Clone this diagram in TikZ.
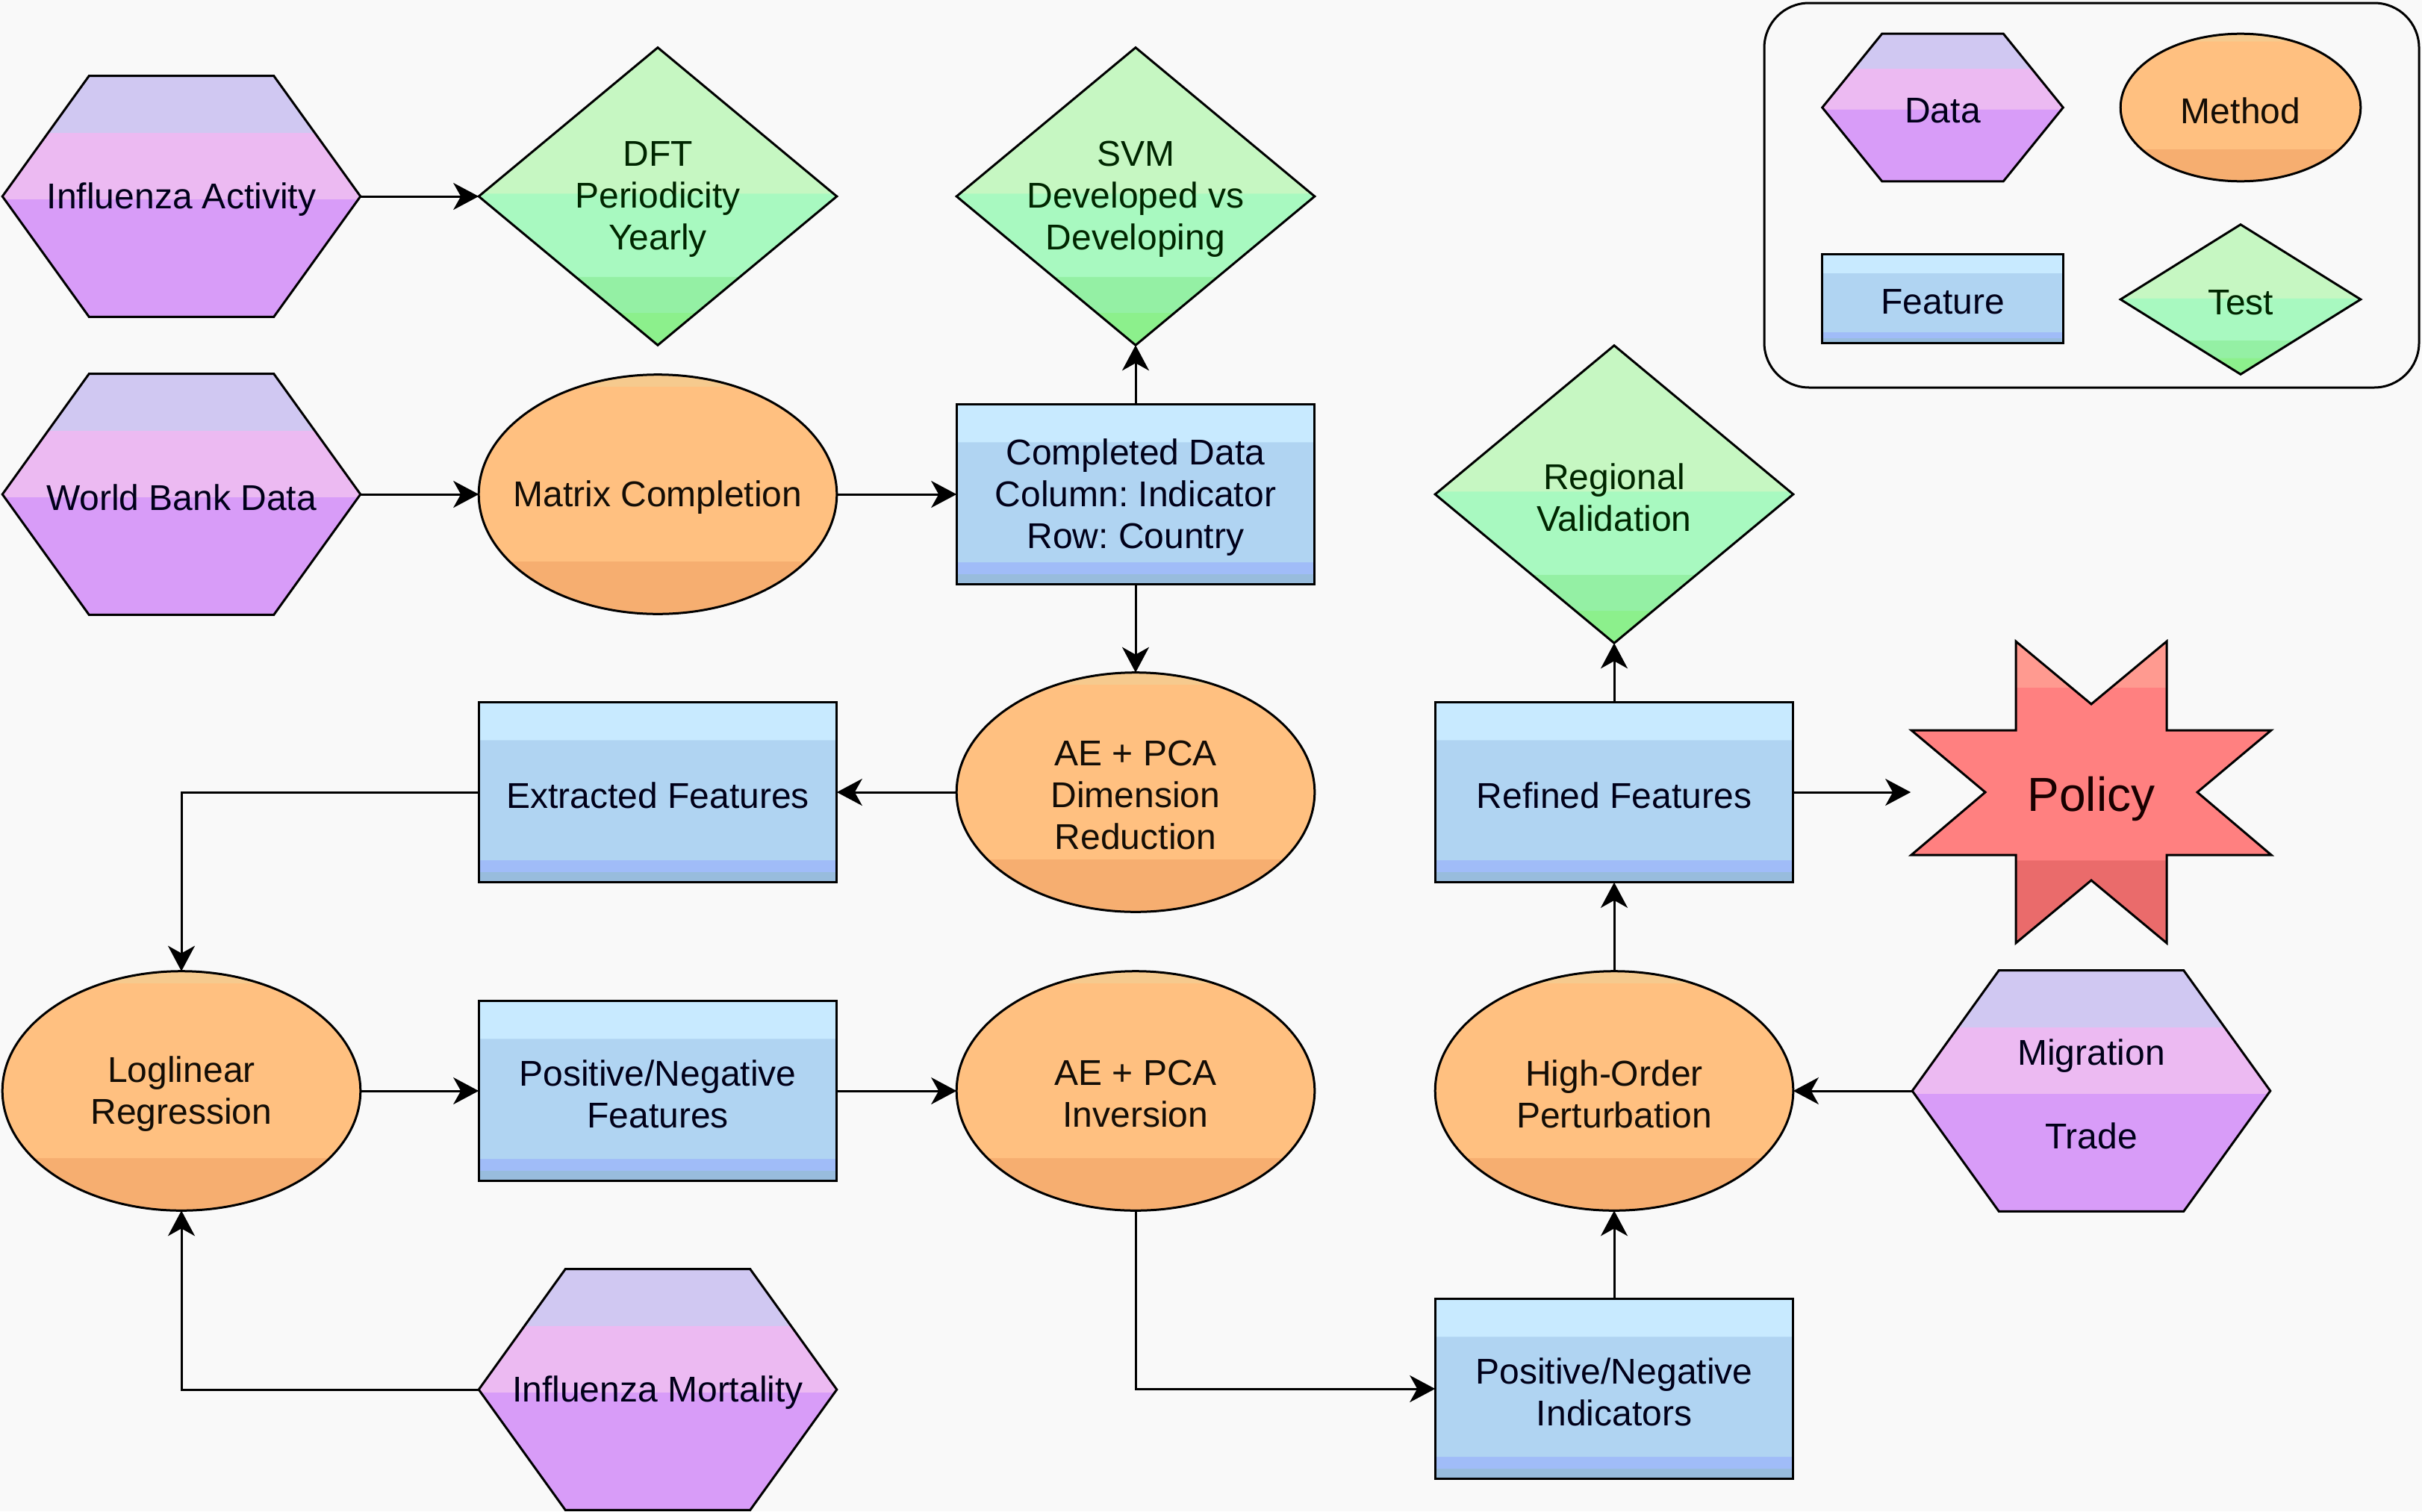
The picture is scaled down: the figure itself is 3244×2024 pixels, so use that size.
\documentclass[tikz,border=0pt]{standalone}
\usepackage{fontspec}
\setmainfont{Liberation Sans}
\frenchspacing
\usetikzlibrary{arrows.meta,calc}
\pgfdeclarelayer{bg}
\pgfsetlayers{bg,main}
\definecolor{bgcol}{HTML}{F9F9F9}
\definecolor{hxA}{HTML}{D0C8F2}
\definecolor{hxB}{HTML}{ECBAF2}
\definecolor{hxC}{HTML}{D89CF8}
\definecolor{ftA}{HTML}{C8EAFF}
\definecolor{ftB}{HTML}{B0D4F2}
\definecolor{ftC}{HTML}{A0BCF8}
\definecolor{ftD}{HTML}{98BCDD}
\definecolor{dmA}{HTML}{C6F7C2}
\definecolor{dmB}{HTML}{A8F9C0}
\definecolor{dmC}{HTML}{94F0A4}
\definecolor{dmD}{HTML}{8CF08C}
\definecolor{elA}{HTML}{F6CA8E}
\definecolor{elB}{HTML}{FFC080}
\definecolor{elC}{HTML}{F6AE70}
\definecolor{stA}{HTML}{FF9A90}
\definecolor{stB}{HTML}{FF8080}
\definecolor{stC}{HTML}{EA6B6B}
\pgfdeclareverticalshading{hexsh}{100bp}{color(0bp)=(hxC); color(49.5bp)=(hxC); color(49.51bp)=(hxB); color(63.25bp)=(hxB); color(63.26bp)=(hxA); color(100bp)=(hxA)}
\pgfdeclareverticalshading{ftsh}{100bp}{color(0bp)=(ftD); color(28bp)=(ftD); color(28.01bp)=(ftC); color(31.25bp)=(ftC); color(31.26bp)=(ftB); color(64.5bp)=(ftB); color(64.51bp)=(ftA); color(100bp)=(ftA)}
\pgfdeclareverticalshading{dmsh}{100bp}{color(0bp)=(dmD); color(30.5bp)=(dmD); color(30.51bp)=(dmC); color(36.5bp)=(dmC); color(36.51bp)=(dmB); color(50.5bp)=(dmB); color(50.51bp)=(dmA); color(100bp)=(dmA)}
\pgfdeclareverticalshading{elsh}{100bp}{color(0bp)=(elC); color(36bp)=(elC); color(36.01bp)=(elB); color(72.5bp)=(elB); color(72.51bp)=(elA); color(100bp)=(elA)}
\pgfdeclareverticalshading{stsh}{100bp}{color(0bp)=(stC); color(38.7bp)=(stC); color(38.71bp)=(stB); color(67.35bp)=(stB); color(67.36bp)=(stA); color(100bp)=(stA)}
\newcommand\hexsh[2]{\path[hexfill] (#1.west) -- ($(#1.north west)+(#2,0)$) -- ($(#1.north east)+(-#2,0)$) -- (#1.east) -- ($(#1.south east)+(-#2,0)$) -- ($(#1.south west)+(#2,0)$) -- cycle;}
\newcommand\ellsh[1]{\path[ellfill] let \p1=($(#1.north east)-(#1.center)$) in (#1.center) ellipse [x radius=\x1, y radius=\y1];}
\newcommand\rectsh[1]{\path[rectfill] (#1.north west) rectangle (#1.south east);}
\newcommand\diamsh[1]{\path[diamfill] (#1.north) -- (#1.east) -- (#1.south) -- (#1.west) -- cycle;}
% shape node (name) plus its text node (nameT), text set a little lower
\newcommand\nd[5]{\node[#2] (#1) at (#3,#4) {}; \node[#2] (#1T) at ($(#1.center)+(0,4)$) {#5};}
\begin{document}
\begin{tikzpicture}[x=0.25pt,y=-0.25pt,
  box/.style 2 args={rectangle, inner sep=0pt, minimum width=#1*0.25pt, minimum height=#2*0.25pt, align=center, font=\fontsize{12}{14}\selectfont},
  hexn/.style={box={478}{321}, text=black!90!blue},
  elln/.style={box={478}{319}, text=black!90!brown},
  rectn/.style={box={478}{240}, text=black!90!blue},
  diamn/.style={box={478}{397}, text=black!85!green},
  lgdatan/.style={box={321}{196}, text=black!90!blue},
  lgmethn/.style={box={320}{196}, text=black!90!brown},
  lgfeatn/.style={box={321}{118}, text=black!90!blue},
  lgtestn/.style={box={320}{199}, text=black!85!green},
  outline/.style={draw=black, line width=0.75pt, line join=miter},
  hexfill/.style={outline, shade, shading=hexsh},
  ellfill/.style={outline, shade, shading=elsh},
  rectfill/.style={outline, shade, shading=ftsh},
  diamfill/.style={outline, shade, shading=dmsh},
  starfill/.style={outline, shade, shading=stsh},
  arr/.style={-{Stealth[length=8.5pt,width=9pt,inset=2.5pt]}, line width=0.75pt, draw=black}
]
\begin{pgfonlayer}{bg}
\fill[bgcol] (0,0) rectangle (3244,2024);
\end{pgfonlayer}
\useasboundingbox (0,0) rectangle (3244,2024);

% main nodes
\nd{ia}{hexn}{243}{263}{Influenza Activity}
\nd{dft}{diamn}{881}{263}{DFT\\Periodicity\\Yearly}
\nd{svm}{diamn}{1521}{263}{SVM\\Developed vs\\Developing}
\nd{wb}{hexn}{243}{662}{World Bank Data}
\nd{mc}{elln}{881}{662}{Matrix Completion}
\nd{cd}{rectn}{1521}{662}{Completed Data\\Column: Indicator\\Row: Country}
\nd{rv}{diamn}{2162}{662}{Regional\\Validation}
\nd{ef}{rectn}{881}{1061}{Extracted Features}
\nd{aedr}{elln}{1521}{1061}{AE + PCA\\Dimension\\Reduction}
\nd{rf}{rectn}{2162}{1061}{Refined Features}
\node[box={482}{404}] (pol) at (2801,1061) {};
\node[box={482}{404}, font=\fontsize{16}{19}\selectfont, text=black!90!red] (polT) at ($(pol.center)+(0,9)$) {Policy};
\nd{ll}{elln}{243}{1461}{Loglinear\\Regression}
\nd{pnf}{rectn}{881}{1461}{Positive/Negative\\Features}
\nd{aei}{elln}{1521}{1461}{AE + PCA\\Inversion}
\nd{hop}{elln}{2162}{1461}{High-Order\\Perturbation}
\nd{mt}{hexn}{2801}{1461}{Migration\\[14pt]Trade}
\nd{im}{hexn}{881}{1861}{Influenza Mortality}
\nd{pni}{rectn}{2162}{1860}{Positive/Negative\\Indicators}

% legend
\node[box={877}{515}, draw=black, line width=0.75pt, rounded corners=15pt] (legend) at (2801.5,261.5) {};
\nd{lgdata}{lgdatan}{2602}{144}{Data}
\nd{lgmeth}{lgmethn}{3001}{144}{Method}
\nd{lgfeat}{lgfeatn}{2602}{400}{Feature}
\nd{lgtest}{lgtestn}{3001}{401}{Test}

\begin{pgfonlayer}{bg}
\hexsh{ia}{116}
\hexsh{wb}{116}
\hexsh{mt}{116}
\hexsh{im}{116}
\hexsh{lgdata}{80}
\diamsh{dft}
\diamsh{svm}
\diamsh{rv}
\diamsh{lgtest}
\ellsh{mc}
\ellsh{aedr}
\ellsh{ll}
\ellsh{aei}
\ellsh{hop}
\ellsh{lgmeth}
\rectsh{cd}
\rectsh{ef}
\rectsh{rf}
\rectsh{pnf}
\rectsh{pni}
\rectsh{lgfeat}
\path[starfill, shift={(pol.center)}] (-101,-202) -- (0,-118) -- (101,-202) -- (101,-83) -- (241,-83) -- (142,0) -- (241,84) -- (101,84) -- (101,202) -- (0,118) -- (-101,202) -- (-101,84) -- (-241,84) -- (-142,0) -- (-241,-83) -- (-101,-83) -- cycle;
\end{pgfonlayer}

% connectors
\draw[arr] (ia.east) -- (dft.west);
\draw[arr] (wb.east) -- (mc.west);
\draw[arr] (mc.east) -- (cd.west);
\draw[arr] (cd.north) -- (svm.south);
\draw[arr] (cd.south) -- (aedr.north);
\draw[arr] (aedr.west) -- (ef.east);
\draw[arr] (ef.west) -| (ll.north);
\draw[arr] (ll.east) -- (pnf.west);
\draw[arr] (pnf.east) -- (aei.west);
\draw[arr] (im.west) -| (ll.south);
\draw[arr] (aei.south) |- (pni.west);
\draw[arr] (pni.north) -- (hop.south);
\draw[arr] (mt.west) -- (hop.east);
\draw[arr] (hop.north) -- (rf.south);
\draw[arr] (rf.north) -- (rv.south);
\draw[arr] (rf.east) -- (pol.west);
\end{tikzpicture}
\end{document}
